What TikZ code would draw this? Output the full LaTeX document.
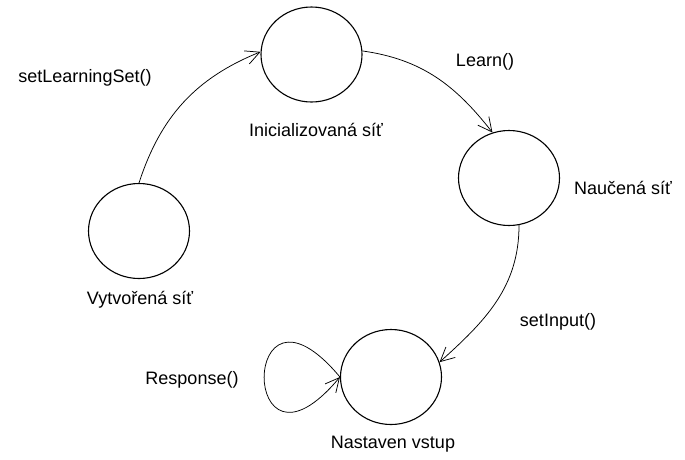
\documentclass[tikz,border=0pt]{standalone}
\usepackage{fontspec}
\setmainfont{Liberation Sans}
\usetikzlibrary{arrows.meta,shapes.geometric}
\begin{document}
\begin{tikzpicture}[x=1pt,y=-1pt,
  state/.style={draw, line width=1.1pt, ellipse, minimum width=101pt, minimum height=95pt, inner sep=0pt},
  lbl/.style={font=\fontsize{18}{21}\selectfont, inner sep=0pt},
  trans/.style={line width=0.75pt, -{Straight Barb[length=14pt,width=14pt,line width=0.75pt]}}]
  \useasboundingbox (0,0) rectangle (685,459);
  % states
  \node[state] (A) at (139,231) {};
  \node[state] (B) at (311.5,54.5) {};
  \node[state] (C) at (509,178) {};
  \node[state] (D) at (391,377) {};
  % state names
  \node[lbl] (la) at (140,300) {Vytvořená síť};
  \node[lbl] (lb) at (316,130) {Inicializovaná síť};
  \node[lbl] (lc) at (623,188) {Naučená síť};
  \node[lbl] (ld) at (393,444) {Nastaven vstup};
  % transition names
  \node[lbl] (t1) at (85,78) {setLearningSet()};
  \node[lbl] (t2) at (485,62) {Learn()};
  \node[lbl] (t3) at (558,322) {setInput()};
  \node[lbl] (t4) at (192,380) {Response()};
  % transitions
  \draw[trans] (A.north) to[out=72,in=202] (B.177);
  \draw[trans] (B.4) to[out=-8,in=128] (C.110);
  \draw[trans] (C.-78) to[out=-90,in=42] (D.17);
  \draw[trans] (D.west) .. controls +(-101,-121) and +(-101,121) .. (D.west);
\end{tikzpicture}
\end{document}
